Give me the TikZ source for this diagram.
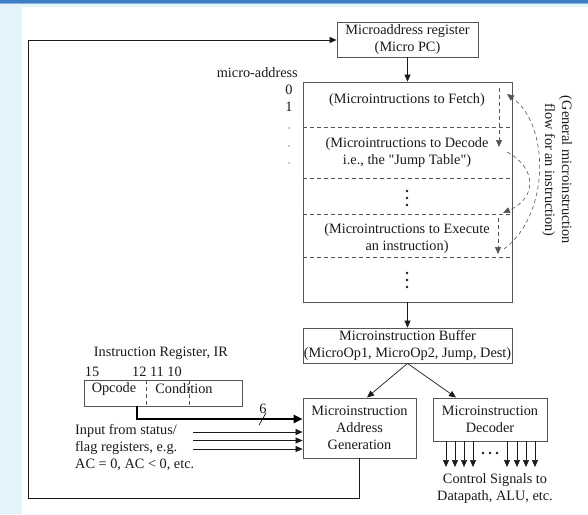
\documentclass[tikz,border=0pt]{standalone}
\usepackage{fontspec}
\setmainfont{Liberation Serif}
\usetikzlibrary{arrows.meta}
\definecolor{frame}{HTML}{555555}
\definecolor{ink}{HTML}{1A1A1A}
\definecolor{paleblue}{HTML}{E2F3FC}
\definecolor{barblue}{HTML}{3C7FC6}
\begin{document}
\begin{tikzpicture}[x=1pt,y=-1pt,
  every node/.style={font=\fontsize{14.3}{17}\selectfont,text=ink,inner sep=0pt},
  box/.style={draw=frame,line width=0.8pt,align=center},
  conn/.style={draw=ink,line width=0.7pt,-{Triangle[length=7pt,width=6pt]}},
  sep/.style={draw=frame,dashed,dash pattern=on 4pt off 3pt,line width=0.6pt},
  flow/.style={draw=frame,dash pattern=on 4pt off 3pt,line width=0.6pt,-{Triangle[length=7pt,width=6pt]}},
  dotc/.style={fill=ink,draw=none}]
\useasboundingbox (0,0) rectangle (588,514);
% background
\fill[paleblue] (0,0) rectangle (588,514);
\fill[white] (22,7) rectangle (588,514);
\fill[barblue] (0,0) rectangle (588,2.5);
\fill[barblue!60] (0,2.5) rectangle (588,3.5);
% boxes
\node[box,minimum width=141pt,minimum height=35pt] (pc) at (407.5,39.5) {Microaddress register\\(Micro PC)};
\node[box,minimum width=209pt,minimum height=220pt] (mem) at (407.5,192) {};
\node[box,minimum width=209pt,minimum height=35pt] (buf) at (407.5,345.5) {Microinstruction Buffer\\(MicroOp1, MicroOp2, Jump, Dest)};
\node[box,minimum width=113pt,minimum height=60pt] (gen) at (359.5,428) {Microinstruction\\Address\\Generation};
\node[box,minimum width=114pt,minimum height=43pt] (dec) at (490,419.5) {Microinstruction\\Decoder};
\node[box,minimum width=158pt,minimum height=26pt] (ir) at (163,393) {};
% memory separators
\foreach \yy in {127,178,214,257}
  \draw[sep] (mem.west |- 0,\yy) -- (mem.east |- 0,\yy);
% memory texts
\node (fetch) at (407,100) {(Microintructions to Fetch)};
\node (decode) at (407,153) [align=center] {(Microintructions to Decode\\i.e., the \textquotedbl Jump Table\textquotedbl)};
\node (exec) at (407,239) [align=center] {(Microintructions to Execute\\an instruction)};
\foreach \yy in {191,198,205,273,280,287}
  \fill[dotc] (407,\yy) circle (1.4pt);
% micro-address labels
\node[anchor=east] (ma) at (298,73) {micro-address};
\node (n0) at (289,90) {0};
\node (n1) at (289,107) {1};
\foreach \yy in {128,146,163}
  \fill[dotc] (289,\yy) circle (0.7pt);
% flow arrows
\coordinate (f1a) at (499,88);
\coordinate (f1b) at (499,147);
\coordinate (f2a) at (498,218);
\coordinate (f2b) at (498,254);
\draw[flow] (f1a) -- (f1b);
\draw[flow] (f2a) -- (f2b);
\coordinate (c1s) at (504,249);
\coordinate (c1e) at (507,94);
\draw[flow] (c1s) .. controls (550,215) and (550,125) .. (c1e);
\coordinate (c2s) at (507,152);
\coordinate (c2e) at (503,213);
\draw[flow] (c2s) .. controls (537,168) and (537,198) .. (c2e);
\node[rotate=-90,align=center] (gen lbl) at (557,170) {(General microinstruction\\flow for an instruction)};
% main connectors
\draw[conn] (pc.south) -- (mem.north);
\draw[conn] (mem.south) -- (buf.north);
\draw[conn] (buf.south) -- (367,397.5);
\draw[conn] (buf.south) -- (456,397.5);
% feedback loop
\coordinate (fb1) at (gen.south |- 0,498);
\coordinate (fb2) at (28,498);
\coordinate (fb3) at (28,40);
\draw[conn] (gen.south) -- (fb1) -- (fb2) -- (fb3) -- (pc.west |- fb3);
% IR
\node (irlbl) at (161,353) {Instruction Register, IR};
\node (b15) at (92,372) {15};
\node (b12) at (157,372) {12 11 10};
\draw[sep] (ir.north -| 146,0) -- (ir.south -| 146,0);
\draw[sep] (ir.north -| 189,0) -- (ir.south -| 189,0);
\node (opc) at (114,389) {Opcode};
\node (cond) at (184,389) {Condition};
\coordinate (th1) at (137,406);
\coordinate (th2) at (137,419);
\draw[line width=2.6pt,-{Triangle[length=9pt,width=8pt]}] (th1) -- (th2) -- (gen.west |- th2);
\draw[line width=0.6pt] (259,425) -- (266,413);
\node (six) at (263,409) {6};
% status inputs
\foreach \yy in {432,440.5,449}
  \draw[conn] (193,\yy) -- (gen.west |- 0,\yy);
\node[anchor=west,align=left] (inp) at (75,448) {Input from status/\\flag registers, e.g.\\AC = 0, AC < 0, etc.};
% decoder outputs
\foreach \xx in {446,455,464,473,507,517,526,535}
  \draw[conn] (dec.south -| \xx,0) -- (\xx,467);
\foreach \xx in {483,490,497}
  \fill[dotc] (\xx,453) circle (1.4pt);
\node[align=center] (ctl) at (495,489) {Control Signals to\\Datapath, ALU, etc.};
\end{tikzpicture}
\end{document}
